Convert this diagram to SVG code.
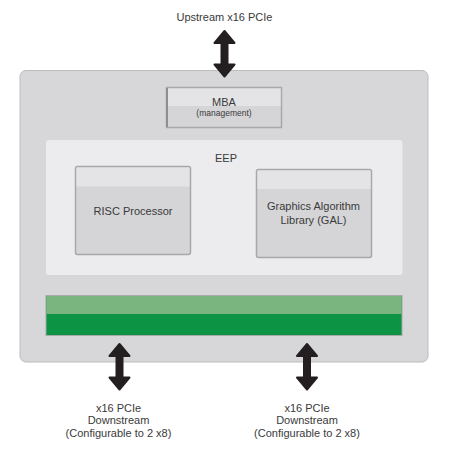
<svg xmlns="http://www.w3.org/2000/svg" width="449" height="452" viewBox="0 0 449 452">
<style>
  text { font-family: "Liberation Sans", Arial, sans-serif; fill: #3a3a3a; text-anchor: middle; }
  .t11 { font-size: 11px; }
  .t8 { font-size: 8.5px; }
  .box { fill: #d5d5d7; stroke: #a8a8aa; stroke-width: 1.5; }
  .band { fill: #e4e4e6; }
  .arrow { fill: #231f20; stroke: #231f20; stroke-width: 2; stroke-linejoin: round; }
</style>
<rect width="449" height="452" fill="#ffffff"/>

<g id="chip">
  <rect x="20" y="70.5" width="408" height="291.5" rx="6" fill="#d7d7d9" stroke="#bcbcbe" stroke-width="1"/>
</g>

<g id="eep">
  <rect x="46" y="140" width="356.5" height="135" rx="3" fill="#ececee"/>
  <text class="t11" x="226" y="161.5">EEP</text>
</g>

<g id="mba">
  <rect class="box" x="166.5" y="87.5" width="115" height="40"/>
  <rect class="band" x="167.5" y="88.5" width="113" height="17.5"/>
  <line x1="167" y1="88" x2="167" y2="127" stroke="#8f8f91" stroke-width="2"/>
  <text class="t11" x="224" y="106">MBA</text>
  <text class="t8" x="224" y="115.5">(management)</text>
</g>

<g id="risc">
  <rect class="box" x="75.5" y="166.5" width="115" height="88" rx="2"/>
  <rect class="band" x="76.5" y="167.5" width="113" height="19"/>
  <text class="t11" x="133" y="215">RISC Processor</text>
</g>

<g id="gal">
  <rect class="box" x="256.5" y="169.5" width="115" height="88" rx="2"/>
  <rect class="band" x="257.5" y="170.5" width="113" height="18.5"/>
  <text class="t11" x="313.5" y="210">Graphics Algorithm</text>
  <text class="t11" x="313.5" y="224">Library (GAL)</text>
</g>

<g id="bus">
  <rect x="46" y="295.5" width="356" height="40" fill="#0c9444" stroke="#a8a8aa" stroke-width="1"/>
  <rect x="46.5" y="296" width="355" height="18" fill="#7ab47e"/>
</g>

<g id="labels">
  <text class="t11" x="224.5" y="20.5">Upstream x16 PCIe</text>
  <text class="t11" x="118.5" y="412">x16 PCIe</text>
  <text class="t11" x="118.5" y="424">Downstream</text>
  <text class="t11" x="118.5" y="436.5">(Configurable to 2 x8)</text>
  <text class="t11" x="307" y="412">x16 PCIe</text>
  <text class="t11" x="307" y="424">Downstream</text>
  <text class="t11" x="307" y="436.5">(Configurable to 2 x8)</text>
</g>

<g id="connectors">
  <path class="arrow" d="M224.5,31 L234.5,43 L227.5,43 L227.5,64.5 L234.5,64.5 L224.5,76.5 L214.5,64.5 L221.5,64.5 L221.5,43 L214.5,43 Z"/>
  <path class="arrow" d="M119.5,344 L129.5,356 L122.5,356 L122.5,377.5 L129.5,377.5 L119.5,389.5 L109.5,377.5 L116.5,377.5 L116.5,356 L109.5,356 Z"/>
  <path class="arrow" d="M307,344 L317,356 L310,356 L310,377.5 L317,377.5 L307,389.5 L297,377.5 L304,377.5 L304,356 L297,356 Z"/>
</g>
</svg>
